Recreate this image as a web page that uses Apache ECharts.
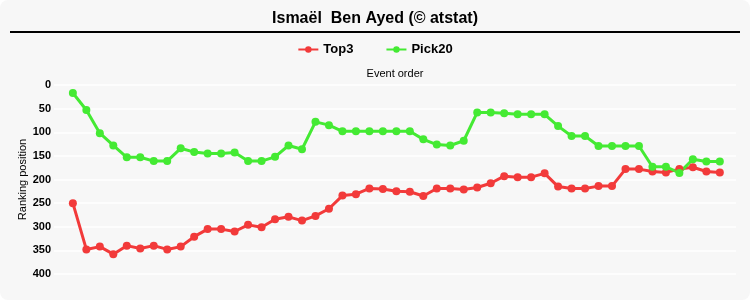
<!DOCTYPE html>
<html>
<head>
<meta charset="utf-8">
<script src="https://cdn.jsdelivr.net/npm/echarts@6/dist/echarts.min.js"></script>
<style>
  html, body { margin: 0; padding: 0; background: #fff; }
  #chart { width: 750px; height: 300px; }
</style>
</head>
<body>
<div id="chart"></div>
<script>
var titleText = 'Ismaël  Ben Ayed (© atstat)';
var seriesNames = ['Top3', 'Pick20'];
var yTicks = [0, 50, 100, 150, 200, 250, 300, 350, 400];

// ranking position per event (lower is better)
var top3 = [
  250, 348, 342, 358, 340, 346, 340, 348, 342, 321,
  305, 305, 310, 296, 301, 284, 279, 287, 277, 262,
  234, 231, 219, 220, 225, 226, 235, 219, 219, 221,
  217, 208, 193, 195, 195, 187, 215, 219, 219, 214,
  214, 178, 178, 183, 185, 178, 174, 183, 185
];
var pick20 = [
  17, 53, 102, 128, 153, 153, 161, 161, 134, 142,
  145, 145, 143, 161, 161, 152, 128, 136, 78, 85,
  98, 98, 98, 98, 98, 98, 115, 126, 128, 118,
  58, 58, 60, 62, 62, 62, 87, 108, 108, 129,
  129, 129, 129, 173, 173, 186, 157, 162, 162
];

function toPoints(arr) {
  return arr.map(function (v, i) { return [i, v]; });
}

var chart = echarts.init(document.getElementById('chart'));

var option = {
  backgroundColor: 'transparent',
  animation: false,
  textStyle: { fontFamily: 'Liberation Sans, Arial, sans-serif' },
  graphic: [
    {
      type: 'rect',
      z: -10,
      shape: { x: 0, y: 0, width: 750, height: 300, r: 8 },
      style: { fill: '#f7f7f7' }
    },
    {
      type: 'line',
      shape: { x1: 10, y1: 32, x2: 740, y2: 32 },
      style: { stroke: '#000', lineWidth: 2 }
    }
  ],
  title: {
    text: titleText,
    left: 'center',
    top: 6,
    textStyle: { fontSize: 16, fontWeight: 'bold', color: '#000' }
  },
  legend: {
    data: seriesNames,
    top: 38,
    left: 'center',
    itemGap: 32,
    itemWidth: 20,
    itemHeight: 8,
    textStyle: { fontSize: 13, fontWeight: 'bold', color: '#000' }
  },
  grid: {
    left: 54,
    right: 14,
    top: 85,
    bottom: 26
  },
  xAxis: {
    type: 'value',
    position: 'top',
    min: -1.4,
    max: 49.2,
    name: 'Event order',
    nameLocation: 'middle',
    nameGap: 6,
    nameTextStyle: { fontSize: 11, color: '#000' },
    axisLine: { show: false },
    axisTick: { show: false },
    axisLabel: { show: false },
    splitLine: { show: false }
  },
  yAxis: {
    type: 'value',
    inverse: true,
    min: yTicks[0],
    max: yTicks[yTicks.length - 1],
    interval: 50,
    name: 'Ranking position',
    nameLocation: 'middle',
    nameGap: 26,
    nameMoveOverlap: false,
    nameTextStyle: { fontSize: 11, color: '#000' },
    axisLine: { show: false },
    axisTick: { show: false },
    axisLabel: { fontSize: 11, fontWeight: 'bold', color: '#000', margin: 3 },
    splitLine: { lineStyle: { color: '#ffffff', width: 1.5 } }
  },
  series: [
    {
      name: seriesNames[0],
      type: 'line',
      data: toPoints(top3),
      symbol: 'circle',
      symbolSize: 8,
      color: '#f23a3a',
      lineStyle: { width: 3 }
    },
    {
      name: seriesNames[1],
      type: 'line',
      data: toPoints(pick20),
      symbol: 'circle',
      symbolSize: 8,
      color: '#44ea33',
      lineStyle: { width: 3 }
    }
  ]
};

option && chart.setOption(option);
</script>
</body>
</html>
